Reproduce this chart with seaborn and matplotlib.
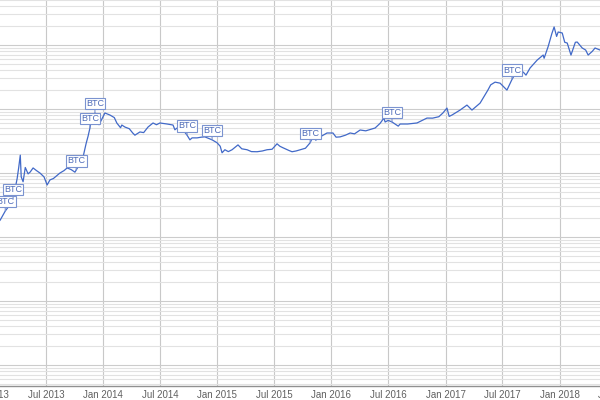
import matplotlib
matplotlib.use("Agg")
import matplotlib.pyplot as plt
import matplotlib.dates as mdates
from matplotlib.ticker import LogLocator, NullFormatter
import seaborn as sns
import pandas as pd

sns.set_style("white")
plt.rcParams["font.family"] = ["Liberation Sans", "DejaVu Sans"]

# price series (log axis)
dates = [
    "2013-01-25", "2013-02-05", "2013-02-21", "2013-03-05", "2013-03-18", "2013-03-31",
    "2013-04-05", "2013-04-10", "2013-04-13", "2013-04-19", "2013-04-26", "2013-05-05",
    "2013-05-12", "2013-05-21", "2013-06-01", "2013-06-12", "2013-06-25", "2013-07-05",
    "2013-07-14", "2013-07-25", "2013-08-15", "2013-08-28", "2013-09-07", "2013-09-20",
    "2013-10-02", "2013-10-06", "2013-10-18", "2013-10-28", "2013-11-07", "2013-11-13",
    "2013-11-19", "2013-11-25", "2013-12-05", "2013-12-10", "2013-12-18", "2013-12-25",
    "2014-01-06", "2014-01-22", "2014-02-05", "2014-02-13", "2014-02-25", "2014-03-01",
    "2014-03-11", "2014-03-25", "2014-04-05", "2014-04-12", "2014-04-28", "2014-05-10",
    "2014-05-24", "2014-06-09", "2014-06-20", "2014-07-01", "2014-07-24", "2014-08-12",
    "2014-08-18", "2014-08-25", "2014-09-13", "2014-09-26", "2014-10-05", "2014-10-12",
    "2014-10-28", "2014-11-10", "2014-11-22", "2014-12-05", "2014-12-15", "2014-12-31",
    "2015-01-10", "2015-01-16", "2015-01-25", "2015-02-05", "2015-02-17", "2015-03-08",
    "2015-03-20", "2015-04-06", "2015-04-20", "2015-05-08", "2015-05-25", "2015-06-09",
    "2015-06-25", "2015-07-11", "2015-07-20", "2015-07-30", "2015-08-18", "2015-08-28",
    "2015-09-10", "2015-09-23", "2015-10-10", "2015-10-25", "2015-11-04", "2015-11-12",
    "2015-11-26", "2015-12-10", "2015-12-18", "2016-01-06", "2016-01-16", "2016-01-29",
    "2016-02-15", "2016-03-01", "2016-03-15", "2016-04-02", "2016-04-20", "2016-05-20",
    "2016-06-05", "2016-06-17", "2016-06-21", "2016-07-01", "2016-07-13", "2016-08-02",
    "2016-08-08", "2016-09-01", "2016-10-01", "2016-11-02", "2016-11-20", "2016-12-10",
    "2016-12-23", "2017-01-05", "2017-01-12", "2017-01-21", "2017-02-16", "2017-03-10",
    "2017-03-26", "2017-04-21", "2017-05-16", "2017-05-25", "2017-06-08", "2017-06-24",
    "2017-07-16", "2017-08-01", "2017-08-15", "2017-09-06", "2017-09-15", "2017-09-28",
    "2017-10-21", "2017-11-09", "2017-11-12", "2017-11-25", "2017-12-07", "2017-12-14",
    "2017-12-22", "2017-12-27", "2018-01-09", "2018-01-17", "2018-01-25", "2018-02-06",
    "2018-02-20", "2018-02-26", "2018-03-14", "2018-03-25", "2018-04-02", "2018-04-15",
    "2018-04-24", "2018-05-10", "2018-05-20",
]
prices = [
    16, 18.5, 25.5, 30.5, 39.5, 82,
    122, 190, 87, 73, 122, 97,
    104, 120, 109, 100, 87, 65,
    78, 82, 100, 109, 120, 113,
    103, 111, 140, 178, 292, 375,
    505, 735, 867, 815, 568, 665,
    867, 805, 735, 605, 510, 562,
    523, 492, 422, 390, 438, 428,
    523, 605, 568, 605, 583, 562,
    474, 505, 470, 390, 330, 354,
    354, 363, 367, 345, 330, 297,
    262, 207, 231, 216, 231, 275,
    239, 231, 216, 215, 221, 231,
    235, 286, 262, 248, 225, 215,
    221, 231, 244, 297, 382, 326,
    367, 400, 422, 422, 363, 367,
    390, 422, 409, 470, 456, 505,
    598, 720, 627, 664, 627, 540,
    583, 583, 605, 722, 720, 758,
    867, 1035, 766, 805, 963, 1152,
    963, 1236, 1975, 2385, 2630, 2535,
    1975, 2890, 3780, 3780, 3385, 4370,
    5830, 6970, 6210, 9485, 15200, 19140,
    13630, 15970, 15420, 11030, 10740, 6970,
    11030, 11130, 8980, 8350, 6970, 7940,
    8980, 8350, 8250,
]

flag_dates = ["2013-02-21", "2013-03-18", "2013-10-06", "2013-11-19", "2013-12-05",
              "2014-09-26", "2014-12-15", "2015-10-25", "2016-07-13", "2017-08-01"]
flag_text = "BTC"

tick_dates = pd.date_range("2013-01-01", "2018-07-01", freq="6MS")

df = pd.DataFrame({"date": pd.to_datetime(dates), "price": prices})
lookup = df.set_index("date")["price"]

line_color = "#4169c8"

fig = plt.figure(figsize=(6, 4), dpi=100)
# the visible picture is a crop of a wider chart, so the axes run past the figure edges
ax = fig.add_axes([-0.1, 0.035, 1.2, 1.015])

sns.lineplot(data=df, x="date", y="price", color=line_color, linewidth=0.9, ax=ax)

ax.set_yscale("log")
ax.set_ylim(0.047, 103700)
ax.set_xlim(pd.Timestamp("2012-07-27"), pd.Timestamp("2018-11-18"))

ax.yaxis.set_major_locator(LogLocator(base=10))
ax.yaxis.set_minor_locator(LogLocator(base=10, subs=range(2, 10)))
ax.yaxis.set_major_formatter(NullFormatter())
ax.yaxis.set_minor_formatter(NullFormatter())
ax.grid(True, which="major", axis="y", color="#cccccc", linewidth=0.8)
ax.grid(True, which="minor", axis="y", color="#e2e2e2", linewidth=0.8)

ax.set_xticks(tick_dates)
ax.xaxis.set_major_formatter(mdates.DateFormatter("%b %Y"))
ax.grid(True, which="major", axis="x", color="#c8c8c8", linewidth=0.8)
ax.tick_params(axis="x", length=0, pad=3, labelsize=7, labelcolor="#606060")
ax.tick_params(axis="y", which="both", length=0)

ax.set_xlabel("")
ax.set_ylabel("")
for side in ["top", "left", "right"]:
    ax.spines[side].set_visible(False)
ax.spines["bottom"].set_color("#909090")
ax.spines["bottom"].set_linewidth(1.0)

for d in flag_dates:
    t = pd.Timestamp(d)
    ax.annotate(flag_text, xy=(t, lookup[t]), xytext=(0, 3.5), textcoords="offset points",
                ha="center", va="bottom", fontsize=6.5, color="#4c6ab8",
                bbox=dict(boxstyle="square,pad=0.15", fc="white", ec="#7b93d0", lw=0.8),
                arrowprops=dict(arrowstyle="-", color="#7b93d0", lw=0.8,
                                shrinkA=0, shrinkB=0))

ax.set_facecolor("white")
fig.savefig("out.png", dpi=100)
